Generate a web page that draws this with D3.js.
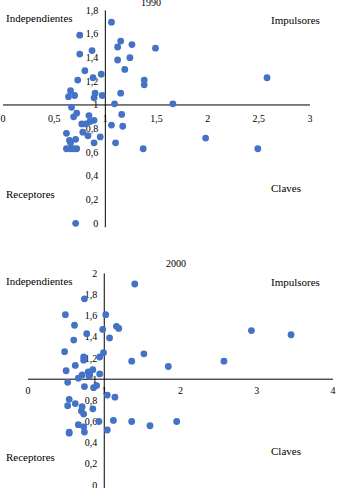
<!DOCTYPE html>
<html>
<head>
<meta charset="utf-8">
<script src="https://cdn.jsdelivr.net/npm/d3@7"></script>
<style>
  html, body { margin: 0; padding: 0; background: #fff; }
  svg { display: block; }
  text { font-family: "Liberation Serif", "DejaVu Serif", serif; fill: #000; }
</style>
</head>
<body>
<svg id="chart" width="338" height="488"></svg>
<script>
// ---------- data ----------
const x1990 = [1.06,0.75,1.15,1.26,1.12,1.49,0.87,0.75,1.24,1.12,1.19,0.80,0.96,0.88,2.58,0.73,1.38,1.38,0.66,0.90,1.15,0.70,0.97,0.64,0.89,1.09,1.66,0.67,
               0.72,0.84,0.69,1.16,0.89,0.85,0.77,0.81,1.06,1.17,0.78,0.62,0.83,0.95,1.98,0.71,0.65,0.66,0.89,1.10,0.62,0.66,0.69,0.72,1.37,2.49,0.71];
const y1990 = [1.70,1.59,1.54,1.51,1.49,1.48,1.46,1.43,1.40,1.38,1.30,1.29,1.26,1.23,1.23,1.21,1.21,1.17,1.12,1.10,1.10,1.08,1.08,1.07,1.06,1.01,1.01,0.98,
               0.93,0.91,0.90,0.92,0.87,0.86,0.84,0.84,0.83,0.82,0.77,0.76,0.74,0.73,0.72,0.71,0.70,0.68,0.68,0.68,0.63,0.63,0.63,0.63,0.63,0.63,0.00];

const x2000 = [1.40,0.74,0.49,1.02,0.61,1.16,1.19,0.98,2.93,0.77,3.45,0.60,1.07,0.48,0.99,1.52,0.73,0.94,1.36,2.57,0.62,0.73,1.84,
               0.50,0.85,0.79,0.71,0.66,0.81,0.94,0.52,0.74,0.86,0.90,1.04,1.14,0.54,0.52,0.62,0.71,0.70,0.85,0.73,0.93,1.12,1.36,1.95,0.66,0.73,1.60,1.04,0.74,0.54,0.54,0.80];
const y2000 = [1.90,1.76,1.61,1.61,1.51,1.50,1.48,1.47,1.46,1.43,1.42,1.37,1.39,1.26,1.25,1.24,1.21,1.21,1.17,1.17,1.13,1.18,1.12,
               1.08,1.09,1.07,1.04,1.01,1.04,1.05,0.97,0.93,0.92,0.94,0.85,0.83,0.81,0.75,0.77,0.74,0.70,0.72,0.67,0.60,0.61,0.60,0.60,0.57,0.55,0.56,0.52,0.50,0.50,0.49,1.03];

const xTicks1990 = [0,0.5,1,1.5,2,2.5,3];
const yTicks1990 = [0,0.2,0.4,0.6,0.8,1,1.2,1.4,1.6,1.8];
const xTicks2000 = [0,1,2,3,4];
const yTicks2000 = [0,0.2,0.4,0.6,0.8,1,1.2,1.4,1.6,1.8,2];
const quadrantLabels = ["Independientes","Impulsores","Receptores","Claves"];

// ---------- drawing ----------
const svg = d3.select("#chart");
const locale = d3.formatLocale({decimal: ",", thousands: ".", grouping: [3], currency: ["", "€"]});
const fmt = v => locale.format("~g")(+v.toFixed(2));
const dotColor = "#4472C4";

function panel(cfg) {
  const g = svg.append("g");
  const x = d3.scaleLinear().domain(cfg.xDomain).range(cfg.xRange);
  const y = d3.scaleLinear().domain(cfg.yDomain).range(cfg.yRange);

  // title
  g.append("text").attr("x", cfg.title.x).attr("y", cfg.title.y)
    .attr("text-anchor", "middle").attr("font-size", 10).text(cfg.title.text);

  // quadrant labels
  cfg.quads.forEach((q, i) => {
    g.append("text").attr("x", q.x).attr("y", q.y)
      .attr("text-anchor", q.anchor || "start")
      .attr("font-size", 11).text(quadrantLabels[i]);
  });

  // tick labels
  g.selectAll(".xl").data(cfg.xTicks).enter().append("text")
    .attr("x", d => x(d)).attr("y", y(1) + cfg.xLabelDy)
    .attr("text-anchor", "middle").attr("font-size", 10).text(fmt);
  g.selectAll(".yl").data(cfg.yTicks).enter().append("text")
    .attr("x", x(1) - 7).attr("y", d => y(d) + 3.5)
    .attr("text-anchor", "end").attr("font-size", 10).text(fmt);

  // axes crossing at (1,1)
  g.append("line").attr("x1", x(cfg.xDomain[0])).attr("x2", x(cfg.xDomain[1]))
    .attr("y1", y(1)).attr("y2", y(1)).attr("stroke", "#000").attr("stroke-width", 1);
  g.append("line").attr("x1", x(1)).attr("x2", x(1))
    .attr("y1", y(cfg.yDomain[0]) + cfg.vExtra).attr("y2", y(cfg.yDomain[1]))
    .attr("stroke", "#000").attr("stroke-width", 1);

  // points
  g.selectAll("circle").data(cfg.xs.map((v, i) => [v, cfg.ys[i]])).enter().append("circle")
    .attr("cx", d => x(d[0])).attr("cy", d => y(d[1])).attr("r", 3.4)
    .attr("fill", dotColor);
}

panel({
  xDomain: [0, 3], xRange: [3, 310],
  yDomain: [0, 1.8], yRange: [223.3, 10.3],
  xs: x1990, ys: y1990,
  xTicks: xTicks1990, yTicks: yTicks1990,
  xLabelDy: 17, vExtra: 4,
  title: {text: "1990", x: 151, y: 6},
  quads: [{x: 6, y: 22}, {x: 271, y: 24}, {x: 6, y: 198}, {x: 271, y: 192}]
});

panel({
  xDomain: [0, 4], xRange: [28, 333],
  yDomain: [0, 2], yRange: [485, 273.4],
  xs: x2000, ys: y2000,
  xTicks: xTicks2000, yTicks: yTicks2000,
  xLabelDy: 15, vExtra: 4,
  title: {text: "2000", x: 176, y: 267},
  quads: [{x: 6, y: 284.5}, {x: 271, y: 286}, {x: 6, y: 460.5}, {x: 271, y: 454.5}]
});
</script>
</body>
</html>
